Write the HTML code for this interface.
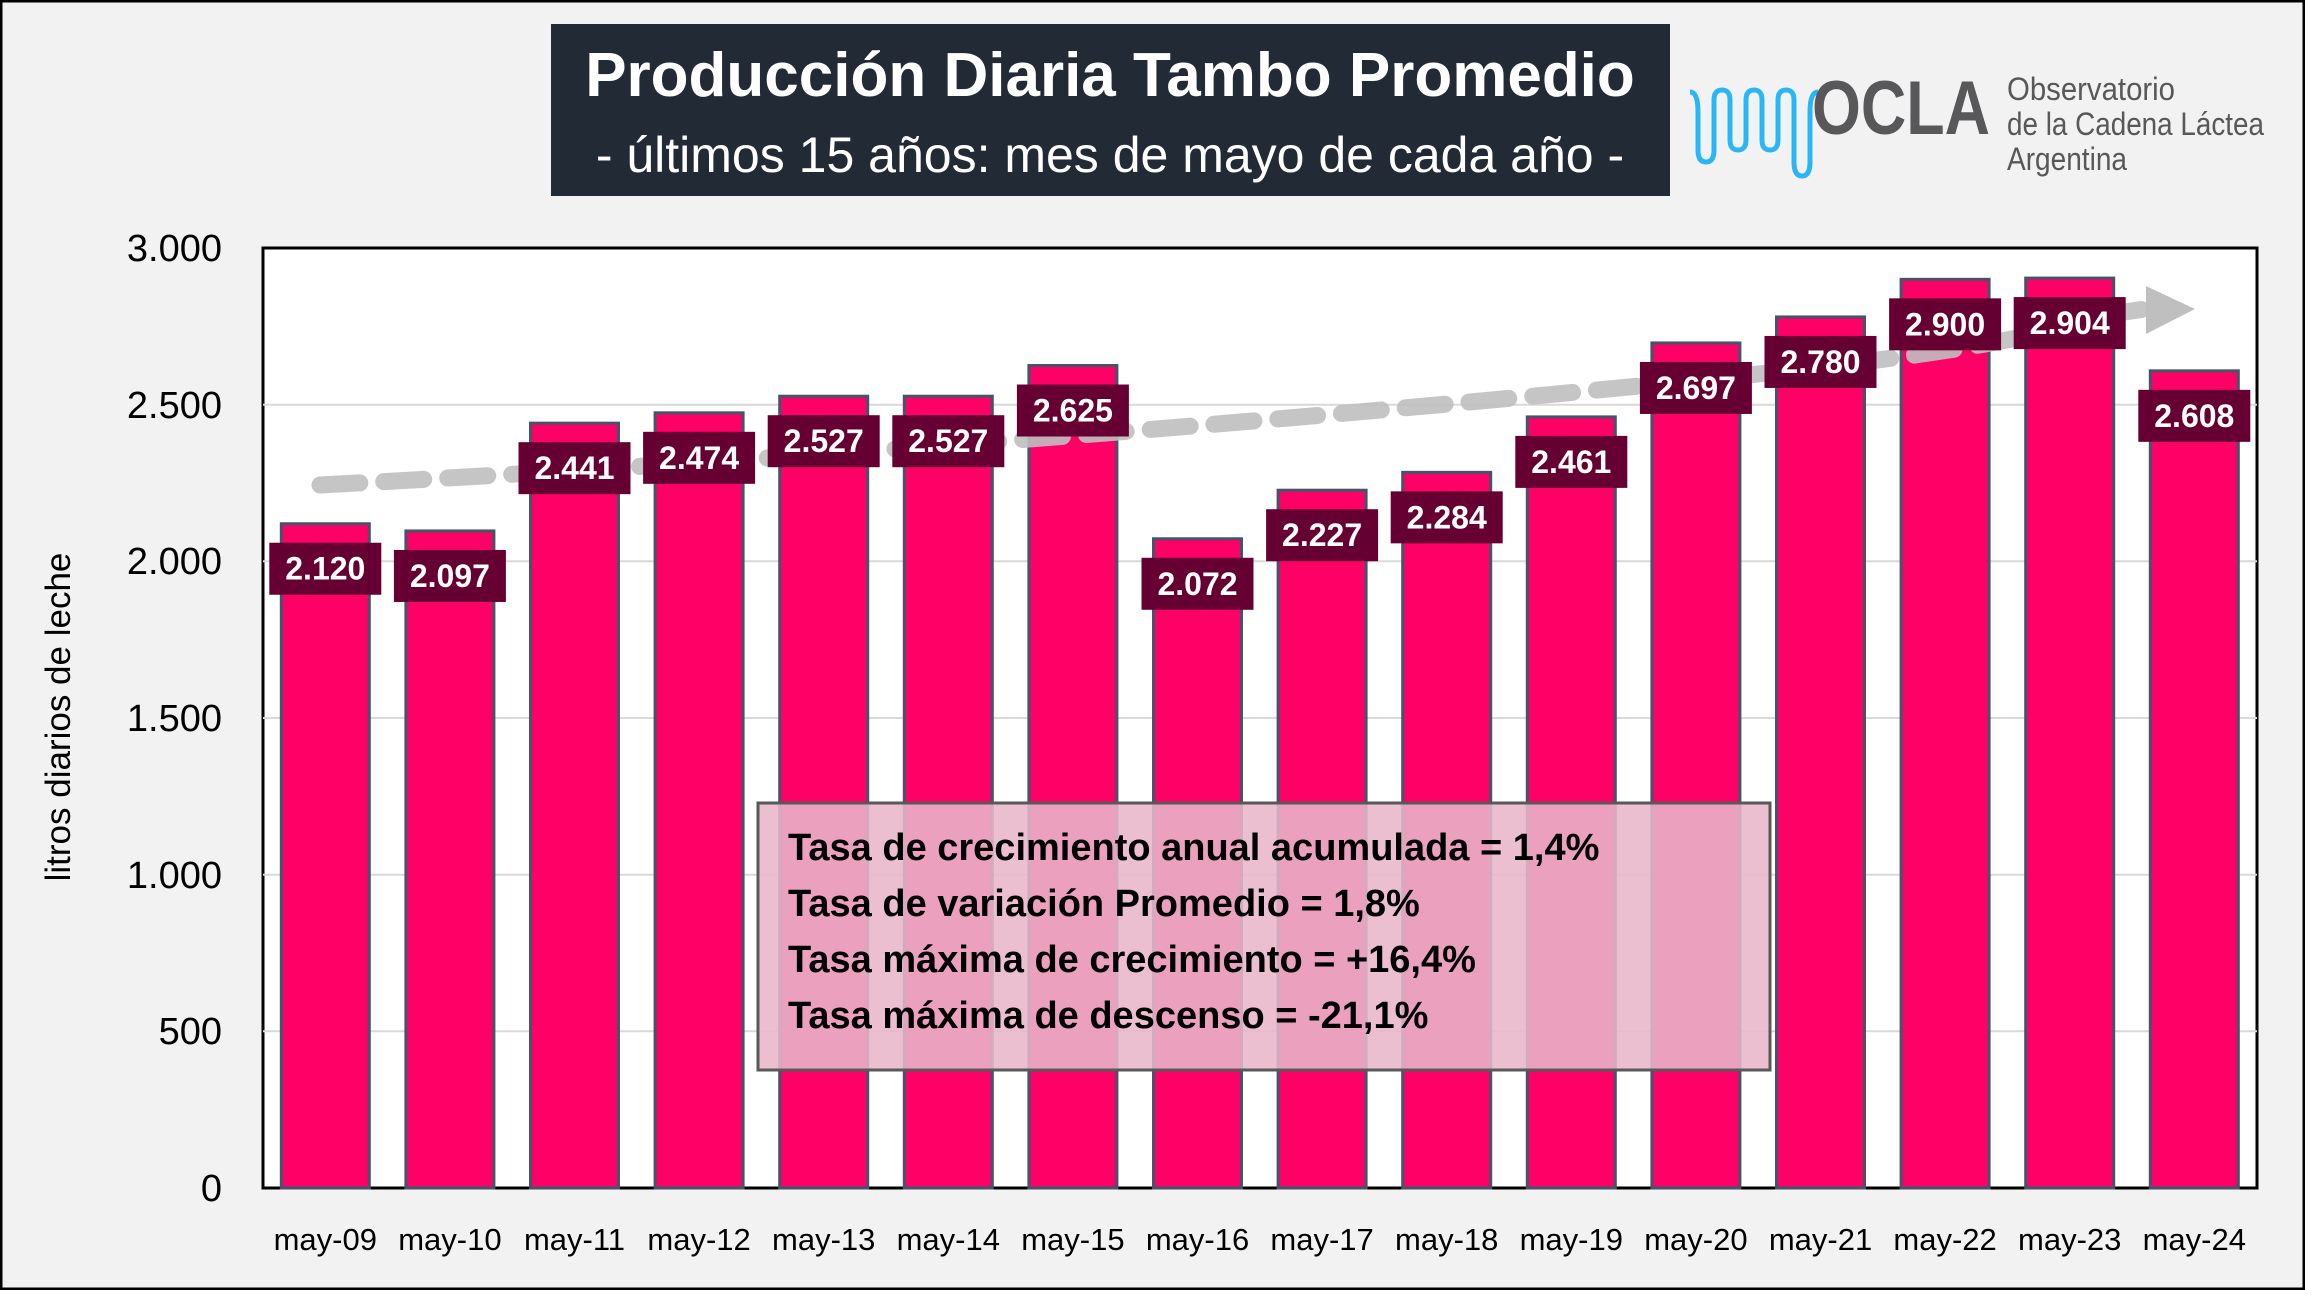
<!DOCTYPE html>
<html><head><meta charset="utf-8"><style>
html,body{margin:0;padding:0;background:#f2f2f2;}
svg{display:block;font-family:"Liberation Sans",sans-serif;}
</style></head><body>
<svg width="2305" height="1290" viewBox="0 0 2305 1290" xmlns="http://www.w3.org/2000/svg">
<rect x="1" y="1" width="2303" height="1288" fill="#f2f2f2" stroke="#000" stroke-width="3"/>
<!-- title -->
<rect x="551" y="24" width="1119" height="172" fill="#222a35"/>
<text x="1110" y="96" text-anchor="middle" fill="#fff" font-size="62" font-weight="bold">Producción Diaria Tambo Promedio</text>
<text x="1110" y="172" text-anchor="middle" fill="#fff" font-size="50">- últimos 15 años: mes de mayo de cada año -</text>
<!-- logo -->
<path d="M1690 92 q8 0 8 20 v38 q0 12 8 12 q8 0 8 -12 v-50 q0 -10 8 -10 q8 0 8 10 v40 q0 10 8 10 q8 0 8 -10 v-40 q0 -10 8 -10 q8 0 8 10 v40 q0 10 8 10 q8 0 8 -10 v-40 q0 -10 8 -10 q8 0 8 10 v62 q0 14 8 14 q8 0 8 -14 v-50 q0 -20 8 -20" fill="none" stroke="#29b6f6" stroke-width="5"/>
<text x="1812" y="134" fill="#58585a" font-size="76" font-weight="bold" textLength="178" lengthAdjust="spacingAndGlyphs">OCLA</text>
<text x="2007" y="100" fill="#58585a" font-size="32" textLength="168" lengthAdjust="spacingAndGlyphs">Observatorio</text>
<text x="2007" y="135" fill="#58585a" font-size="32" textLength="257" lengthAdjust="spacingAndGlyphs">de la Cadena Láctea</text>
<text x="2007" y="170" fill="#58585a" font-size="32" textLength="120" lengthAdjust="spacingAndGlyphs">Argentina</text>
<!-- plot -->
<rect x="263" y="248" width="1994" height="940" fill="#fff" stroke="#000" stroke-width="3"/>
<g stroke="#d9d9d9" stroke-width="2">
<line x1="263" y1="1031.3" x2="2257" y2="1031.3"/><line x1="263" y1="874.7" x2="2257" y2="874.7"/>
<line x1="263" y1="718" x2="2257" y2="718"/><line x1="263" y1="561.3" x2="2257" y2="561.3"/>
<line x1="263" y1="404.7" x2="2257" y2="404.7"/></g>
<g font-size="38" fill="#000" text-anchor="end">
<text x="222" y="1201">0</text><text x="222" y="1044">500</text><text x="222" y="888">1.000</text>
<text x="222" y="731">1.500</text><text x="222" y="574">2.000</text><text x="222" y="418">2.500</text><text x="222" y="261">3.000</text></g>
<text transform="translate(70,717) rotate(-90)" text-anchor="middle" font-size="35" fill="#000">litros diarios de leche</text>
<g id="bars" fill="#ff0066" stroke="#44546a" stroke-width="3"></g>
<!-- arrow -->
<path d="M320 485 C 800 460, 1300 420, 1700 380 S 2050 320, 2146 309" fill="none" stroke="#bfbfbf" stroke-width="17" stroke-dasharray="40,24" stroke-linecap="round" opacity="0.9"/>
<polygon points="2146,286 2195,309 2146,334" fill="#bfbfbf"/>
<g id="labels" font-size="32" font-weight="bold" fill="#fff" text-anchor="middle"></g>
<g id="xl" font-size="31" fill="#000" text-anchor="middle"></g>
<!-- text box -->
<rect x="758" y="803" width="1012" height="267" fill="#e8b6c9" fill-opacity="0.88" stroke="#595959" stroke-width="3"/>
<g font-size="38" font-weight="bold" fill="#000">
<text x="788" y="860">Tasa de crecimiento anual acumulada = 1,4%</text>
<text x="788" y="916">Tasa de variación Promedio = 1,8%</text>
<text x="788" y="972">Tasa máxima de crecimiento = +16,4%</text>
<text x="788" y="1028">Tasa máxima de descenso = -21,1%</text></g>
</svg>
<script>
const v=[2120,2097,2441,2474,2527,2527,2625,2072,2227,2284,2461,2697,2780,2900,2904,2608];
const ns="http://www.w3.org/2000/svg";
const b=document.getElementById('bars'),l=document.getElementById('labels'),x=document.getElementById('xl');
v.forEach((d,i)=>{const cx=263+124.6*(i+0.5);const top=1188-d*0.31333;
let r=document.createElementNS(ns,'rect');r.setAttribute('x',cx-44);r.setAttribute('y',top);r.setAttribute('width',88);r.setAttribute('height',1188-top);b.appendChild(r);
let bx=document.createElementNS(ns,'rect');bx.setAttribute('x',cx-56);bx.setAttribute('y',top+19);bx.setAttribute('width',112);bx.setAttribute('height',52);bx.setAttribute('fill','#660033');l.appendChild(bx);
let t=document.createElementNS(ns,'text');t.setAttribute('x',cx);t.setAttribute('y',top+56);t.textContent=(d/1000).toFixed(3);l.appendChild(t);
let xt=document.createElementNS(ns,'text');xt.setAttribute('x',cx);xt.setAttribute('y',1250);xt.textContent='may-'+String(9+i).padStart(2,'0');x.appendChild(xt);});
</script>
</body></html>
